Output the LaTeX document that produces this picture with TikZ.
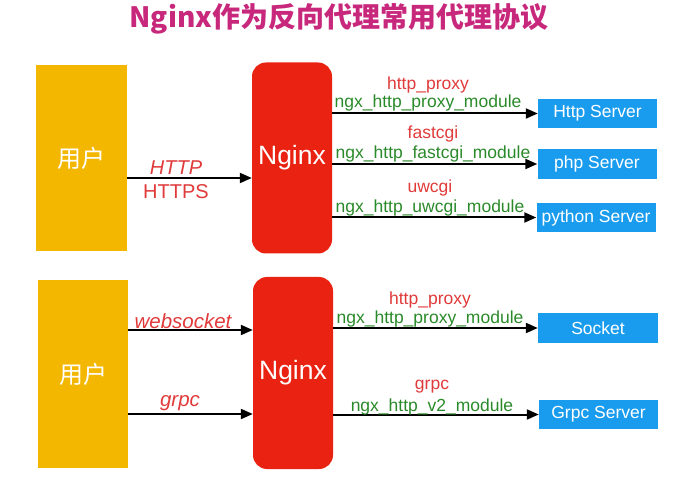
\documentclass[tikz,border=0pt]{standalone}
\usepackage{fontspec}
\setmainfont{Liberation Sans}
\newfontfamily\cjk{Noto Sans CJK SC}
\usetikzlibrary{arrows.meta}
\definecolor{userY}{HTML}{F4B700}
\definecolor{ngxR}{HTML}{EA2212}
\definecolor{srvB}{HTML}{1A9CEE}
\definecolor{lblR}{HTML}{E03A3A}
\definecolor{lblG}{HTML}{2A8A2A}
\definecolor{ttl}{HTML}{C8287C}
\begin{document}
\begin{tikzpicture}[x=1pt,y=-1pt,
  userbox/.style={fill=userY, draw=none, text=white, font=\cjk\fontsize{24}{28}\selectfont, minimum width=91pt, minimum height=186pt, inner sep=0pt},
  ngxbox/.style={fill=ngxR, draw=none, rounded corners=14pt, text=white, font=\fontsize{26.5}{30}\selectfont, minimum width=80pt, minimum height=191pt, inner sep=0pt},
  srvbox/.style={fill=srvB, draw=none, text=white, font=\fontsize{17.5}{21}\selectfont, minimum width=119pt, minimum height=29.5pt, inner sep=0pt},
  proto/.style={text=lblR, font=\fontsize{17.5}{21}\selectfont, inner sep=0pt},
  modl/.style={text=lblG, font=\fontsize{17.5}{21}\selectfont, inner sep=0pt},
  inlbl/.style={text=lblR, font=\fontsize{20}{24}\selectfont, inner sep=0pt},
  arr/.style={line width=2pt, -{Triangle[length=12pt,width=10pt]}}
]
\useasboundingbox (0,0) rectangle (688,486);
% title
\node[text=ttl, font=\cjk\bfseries\fontsize{28}{32}\selectfont, inner sep=0pt] (title) at (339,19) {Nginx作为反向代理常用代理协议};

% top section
\node[userbox] (u1) at (81.5,158.5) {用户};
\node[ngxbox] (n1) at (292,158) {Nginx};
\node[srvbox] (s1) at (597.5,113.5) {Http Server};
\node[srvbox] (s2) at (597,164) {php Server};
\node[srvbox] (s3) at (596,217.5) {python Server};
\coordinate (h1) at (127,178);
\draw[arr] (u1.east |- h1) -- (n1.west |- h1);
\node[inlbl, font=\fontsize{20}{24}\selectfont\itshape] (lh) at (176,168) {HTTP};
\node[inlbl] (lhs) at (176,192) {HTTPS};
\draw[arr] (n1.east |- s1.west) -- (s1.west);
\draw[arr] (n1.east |- s2.west) -- (s2.west);
\draw[arr] (n1.east |- s3.west) -- (s3.west);
\node[proto] (p1) at (428,85) {http\_proxy};
\node[modl] (m1) at (428,103) {ngx\_http\_proxy\_module};
\node[proto] (p2) at (433,134) {fastcgi};
\node[modl] (m2) at (433,154) {ngx\_http\_fastcgi\_module};
\node[proto] (p3) at (430,188) {uwcgi};
\node[modl] (m3) at (430,208) {ngx\_http\_uwcgi\_module};

% bottom section
\node[userbox, minimum width=90pt, minimum height=188pt] (u2) at (83,374) {用户};
\node[ngxbox, minimum height=192pt] (n2) at (293,373) {Nginx};
\node[srvbox, minimum width=120pt, minimum height=30pt] (s4) at (598,328) {Socket};
\node[srvbox] (s5) at (598.5,414.5) {Grpc Server};
\coordinate (h2) at (128,330);
\coordinate (h3) at (128,414);
\draw[arr] (u2.east |- h2) -- (n2.west |- h2);
\draw[arr] (u2.east |- h3) -- (n2.west |- h3);
\node[inlbl, font=\fontsize{20.5}{24}\selectfont\itshape] (lw) at (183,321) {websocket};
\node[inlbl, font=\fontsize{20.5}{24}\selectfont\itshape] (lg) at (180,403) {grpc};
\draw[arr] (n2.east |- s4.west) -- (s4.west);
\draw[arr] (n2.east |- s5.west) -- (s5.west);
\node[proto] (p4) at (430,300) {http\_proxy};
\node[modl] (m4) at (430,319) {ngx\_http\_proxy\_module};
\node[proto] (p5) at (432,387) {grpc};
\node[modl] (m5) at (432,407) {ngx\_http\_v2\_module};
\end{tikzpicture}
\end{document}
